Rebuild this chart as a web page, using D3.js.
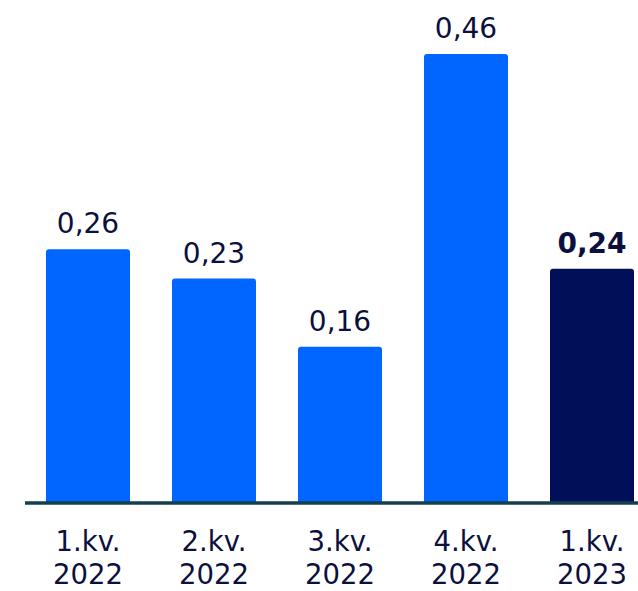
<!DOCTYPE html>
<html>
<head>
<meta charset="utf-8">
<script src="https://cdn.jsdelivr.net/npm/d3@7"></script>
<style>
  html, body { margin: 0; padding: 0; background: #fff; }
  svg { display: block; }
</style>
</head>
<body>
<svg id="chart" width="638" height="591"></svg>
<script>
// Quarterly values
const quarters = ["1.kv.", "2.kv.", "3.kv.", "4.kv.", "1.kv."];
const years = ["2022", "2022", "2022", "2022", "2023"];
const values = [0.26, 0.23, 0.16, 0.46, 0.24];
const valueLabels = ["0,26", "0,23", "0,16", "0,46", "0,24"];
const highlight = [false, false, false, false, true];

const svg = d3.select("#chart");
const baseY = 503;
const font = "DejaVu Sans, Verdana, sans-serif";
const textColor = "#0b103d";

const x = d3.scaleBand()
  .domain(d3.range(values.length))
  .range([25, 655])
  .paddingInner(1 / 3)
  .paddingOuter(1 / 6);

const y = d3.scaleLinear()
  .domain([0, 0.46])
  .range([baseY, 54]);

// Bars (rounded tops, bottoms tucked under the axis line)
svg.selectAll("rect.bar")
  .data(values)
  .join("rect")
  .attr("class", "bar")
  .attr("x", (d, i) => x(i))
  .attr("y", d => y(d))
  .attr("width", x.bandwidth())
  .attr("height", d => baseY - y(d) + 1)
  .attr("rx", 3)
  .attr("fill", (d, i) => highlight[i] ? "#000f58" : "#0066ff");

// Axis line
svg.append("line")
  .attr("x1", 25).attr("x2", 638)
  .attr("y1", baseY).attr("y2", baseY)
  .attr("stroke", "#143f4c")
  .attr("stroke-width", 3.5);

// Value labels
svg.selectAll("text.val")
  .data(values)
  .join("text")
  .attr("class", "val")
  .attr("x", (d, i) => x(i) + x.bandwidth() / 2)
  .attr("y", d => y(d) - 16)
  .attr("text-anchor", "middle")
  .attr("font-family", font)
  .attr("font-size", 28)
  .attr("font-weight", (d, i) => highlight[i] ? "bold" : "normal")
  .attr("fill", textColor)
  .text((d, i) => valueLabels[i]);

// Category labels
const cat = svg.selectAll("text.cat")
  .data(quarters)
  .join("text")
  .attr("class", "cat")
  .attr("x", (d, i) => x(i) + x.bandwidth() / 2)
  .attr("y", 551)
  .attr("text-anchor", "middle")
  .attr("font-family", font)
  .attr("font-size", 27.5)
  .attr("fill", textColor);

cat.append("tspan").text(d => d);
cat.append("tspan")
  .attr("x", (d, i) => x(i) + x.bandwidth() / 2)
  .attr("dy", 33)
  .text((d, i) => years[i]);
</script>
</body>
</html>
